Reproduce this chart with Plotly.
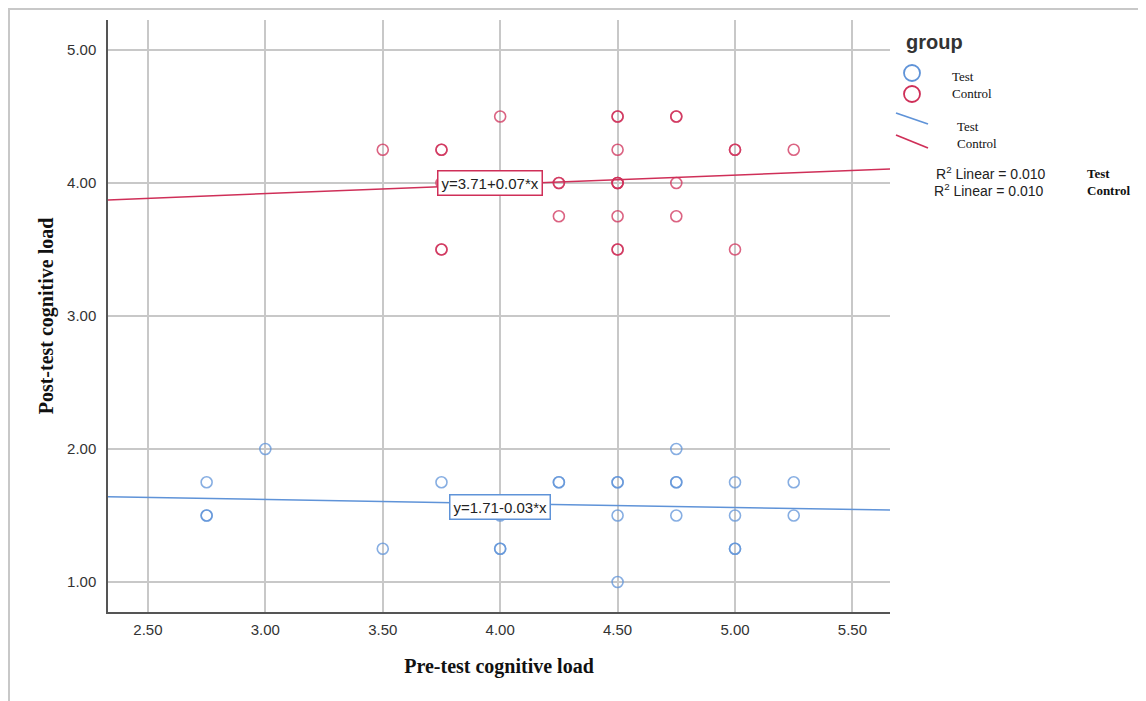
import plotly.graph_objects as go

# ---- data ----
test_pre = [2.75, 2.75, 2.75, 3.00, 3.50, 3.75, 4.00, 4.00, 4.00, 4.25, 4.25, 4.50, 4.50, 4.50, 4.50,
            4.75, 4.75, 4.75, 4.75, 5.00, 5.00, 5.00, 5.00, 5.25, 5.25]
test_post = [1.75, 1.50, 1.50, 2.00, 1.25, 1.75, 1.50, 1.25, 1.25, 1.75, 1.75, 1.75, 1.75, 1.50, 1.00,
             2.00, 1.75, 1.75, 1.50, 1.75, 1.50, 1.25, 1.25, 1.75, 1.50]
control_pre = [3.50, 3.75, 3.75, 3.75, 3.75, 3.75, 4.00, 4.25, 4.25, 4.25, 4.50, 4.50, 4.50, 4.50, 4.50,
               4.50, 4.50, 4.50, 4.50, 4.75, 4.75, 4.75, 4.75, 5.00, 5.00, 5.00, 5.25]
control_post = [4.25, 4.25, 4.25, 4.00, 3.50, 3.50, 4.50, 4.00, 4.00, 3.75, 4.50, 4.50, 4.25, 4.00, 4.00,
                3.75, 3.50, 3.50, 4.00, 4.50, 4.50, 4.00, 3.75, 4.25, 4.25, 3.50, 4.25]
fit_test = (1.71, -0.03)
fit_control = (3.71, 0.07)
r2_test = "0.010"
r2_control = "0.010"
x_ticks = [2.5, 3.0, 3.5, 4.0, 4.5, 5.0, 5.5]
y_ticks = [1.0, 2.0, 3.0, 4.0, 5.0]

# ---- style ----
RED = "#cf2f58"
BLUE = "#5f93d8"
X_RANGE = [2.33, 5.66]
Y_RANGE = [0.774, 5.226]

OFF = 8  # page body margin
L, R, T, B = 108 - OFF, 890 - OFF, 20 - OFF, 612 - OFF
W, H = 1146 - OFF, 701 - OFF


def px(x):
    return (x - OFF - L) / (R - L)


def py(y):
    return (B - (y - OFF)) / (B - T)


fig = go.Figure()

fig.add_trace(go.Scatter(
    x=test_pre, y=test_post, mode="markers", name="Test",
    marker=dict(symbol="circle-open", size=11, color="rgba(95,147,216,0.75)",
                line=dict(width=1.6, color="rgba(95,147,216,0.75)")),
))
fig.add_trace(go.Scatter(
    x=control_pre, y=control_post, mode="markers", name="Control",
    marker=dict(symbol="circle-open", size=11, color="rgba(207,47,88,0.75)",
                line=dict(width=1.6, color="rgba(207,47,88,0.75)")),
))

for (a, b), col in ((fit_test, BLUE), (fit_control, RED)):
    xs = [X_RANGE[0], X_RANGE[1]]
    ys = [a + b * x for x in xs]
    fig.add_trace(go.Scatter(x=xs, y=ys, mode="lines", line=dict(color=col, width=1.5),
                             hoverinfo="skip"))

# equation boxes
fig.add_annotation(x=3.955, y=4.0, xref="x", yref="y", showarrow=False,
                   text="y=%.2f+%.2f*x" % fit_control,
                   font=dict(family="Liberation Sans, Arial", size=15, color="#222"),
                   bgcolor="white", bordercolor=RED, borderwidth=1.5, borderpad=3)
fig.add_annotation(x=4.0, y=1.565, xref="x", yref="y", showarrow=False,
                   text="y=%.2f%.2f*x" % fit_test,
                   font=dict(family="Liberation Sans, Arial", size=15, color="#222"),
                   bgcolor="white", bordercolor=BLUE, borderwidth=1.5, borderpad=3)

# ---- manual legend ----
serif = "Liberation Serif, Times New Roman"
sans = "Liberation Sans, Arial"
ann = []
ann.append(dict(x=px(904), y=py(42), text="<b>group</b>", xanchor="left", yanchor="middle",
                font=dict(family=sans, size=20, color="#333")))
ann.append(dict(x=px(950), y=py(76), text="Test", xanchor="left", yanchor="middle",
                font=dict(family=serif, size=13, color="#111")))
ann.append(dict(x=px(950), y=py(93), text="Control", xanchor="left", yanchor="middle",
                font=dict(family=serif, size=13, color="#111")))
ann.append(dict(x=px(955), y=py(126), text="Test", xanchor="left", yanchor="middle",
                font=dict(family=serif, size=13, color="#111")))
ann.append(dict(x=px(955), y=py(143), text="Control", xanchor="left", yanchor="middle",
                font=dict(family=serif, size=13, color="#111")))
ann.append(dict(x=px(934), y=py(173), text="R<sup>2</sup> Linear = " + r2_test, xanchor="left",
                yanchor="middle", font=dict(family=sans, size=14, color="#222")))
ann.append(dict(x=px(932), y=py(190), text="R<sup>2</sup> Linear = " + r2_control, xanchor="left",
                yanchor="middle", font=dict(family=sans, size=14, color="#222")))
ann.append(dict(x=px(1085), y=py(174), text="<b>Test</b>", xanchor="left", yanchor="middle",
                font=dict(family=serif, size=13, color="#111")))
ann.append(dict(x=px(1085), y=py(191), text="<b>Control</b>", xanchor="left", yanchor="middle",
                font=dict(family=serif, size=13, color="#111")))
for a_ in ann:
    a_.update(xref="paper", yref="paper", showarrow=False)
    fig.add_annotation(**a_)

shapes = []
# legend circles
for cy, col in ((73, BLUE), (94, RED)):
    shapes.append(dict(type="circle", xref="paper", yref="paper",
                       x0=px(904), x1=px(920), y0=py(cy - 8), y1=py(cy + 8),
                       line=dict(color=col, width=1.8)))
# legend lines
shapes.append(dict(type="line", xref="paper", yref="paper", x0=px(896), y0=py(113),
                   x1=px(928), y1=py(124), line=dict(color=BLUE, width=1.8)))
shapes.append(dict(type="line", xref="paper", yref="paper", x0=px(896), y0=py(135),
                   x1=px(928), y1=py(148), line=dict(color=RED, width=1.8)))
# outer frame
shapes.append(dict(type="rect", xref="paper", yref="paper", x0=px(9), x1=px(1141),
                   y0=py(9), y1=py(712), line=dict(color="#c8c8c8", width=2), layer="below"))
fig.update_layout(shapes=shapes)

fig.update_layout(
    width=W, height=H,
    margin=dict(l=L, r=W - R, t=T, b=H - B),
    paper_bgcolor="white", plot_bgcolor="white",
    showlegend=False,
    xaxis=dict(range=X_RANGE, tickvals=x_ticks, ticktext=["%.2f" % v for v in x_ticks],
               showgrid=True, gridcolor="#c8c8c8", gridwidth=1.5,
               showline=True, linecolor="#555", linewidth=1.5, zeroline=False,
               ticks="outside", ticklen=3, tickcolor="rgba(0,0,0,0)",
               tickfont=dict(family=sans, size=15, color="#333"),
               title=dict(text="<b>Pre-test cognitive load</b>", standoff=22,
                          font=dict(family=serif, size=20, color="#111"))),
    yaxis=dict(range=Y_RANGE, tickvals=y_ticks, ticktext=["%.2f" % v for v in y_ticks],
               showgrid=True, gridcolor="#c8c8c8", gridwidth=1.5,
               showline=True, linecolor="#555", linewidth=1.5, zeroline=False,
               ticks="outside", ticklen=7, tickcolor="rgba(0,0,0,0)",
               tickfont=dict(family=sans, size=15, color="#333"),
               title=dict(text="<b>Post-test cognitive load</b>", standoff=8,
                          font=dict(family=serif, size=20, color="#111"))),
)

fig.write_html("out.html")
